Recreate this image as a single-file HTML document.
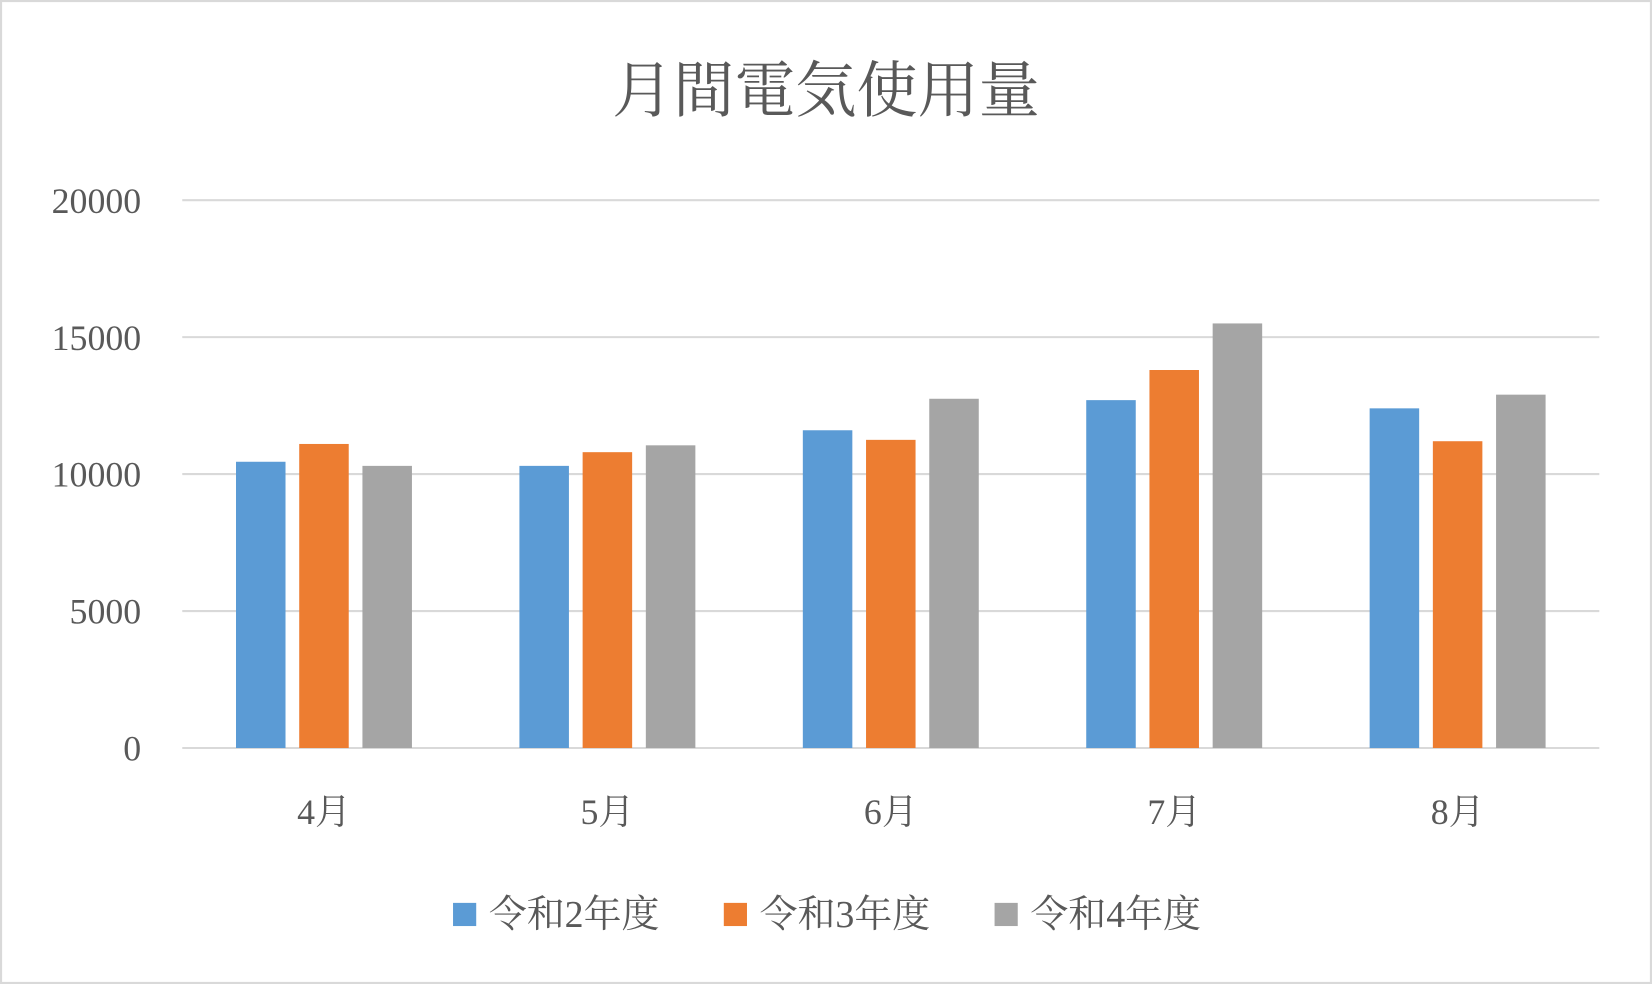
<!DOCTYPE html>
<html><head><meta charset="utf-8"><style>
html,body{margin:0;padding:0;background:#fff;}
svg{display:block;}
text{font-family:"Liberation Serif","Noto Serif CJK SC","Noto Sans CJK JP",serif;fill:#595959;}
</style></head><body>
<svg width="1652" height="984" viewBox="0 0 1568 934" preserveAspectRatio="none" xmlns="http://www.w3.org/2000/svg">
<rect x="1" y="1" width="1566" height="932" fill="#fff" stroke="#d9d9d9" stroke-width="2"/>
<text x="784" y="106" font-size="58" text-anchor="middle">月間電気使用量</text>
<g id="grid"></g><g id="bars"></g><g id="labels"></g>
<g font-size="36">
<rect x="430" y="857" width="22" height="22" fill="#5b9bd5"/>
<text x="464" y="880" font-size="36">令和2年度</text>
<rect x="687" y="857" width="22" height="22" fill="#ed7d31"/>
<text x="721" y="880" font-size="36">令和3年度</text>
<rect x="944" y="857" width="22" height="22" fill="#a5a5a5"/>
<text x="978" y="880" font-size="36">令和4年度</text>
</g>
</svg>
<script>
const categories=["4月","5月","6月","7月","8月"];
const seriesR2=[10450,10300,11600,12700,12400];
const seriesR3=[11100,10800,11250,13800,11200];
const seriesR4=[10300,11050,12750,15500,12900];
const ticks=[0,5000,10000,15000,20000];
const NS="http://www.w3.org/2000/svg";
const x0=173,x1=1518,yTop=190,yBot=710,maxV=20000;
const y=v=>yBot-(v/maxV)*(yBot-yTop);
const bw=(x1-x0)/categories.length;
const grid=document.getElementById('grid'),bars=document.getElementById('bars'),labels=document.getElementById('labels');
function mk(tag,attrs,parent){const e=document.createElementNS(NS,tag);for(const k in attrs)e.setAttribute(k,attrs[k]);parent.appendChild(e);return e;}
ticks.forEach(t=>{
 const l=mk('line',{x1:x0,x2:x1,y1:y(t),y2:y(t),stroke:'#d9d9d9','stroke-width':2},grid);
 
 
 const tx=mk('text',{x:134,y:y(t)+12,'font-size':34,'text-anchor':'end'},labels);
 tx.textContent=t;
 
 
});
const series=[[seriesR2,'#5b9bd5'],[seriesR3,'#ed7d31'],[seriesR4,'#a5a5a5']];
categories.forEach((c,i)=>{
 const cx=x0+bw*(i+0.5);
 series.forEach(([vals,col],s)=>{
  const bx=cx-83.5+s*60;
  const r=mk('rect',{x:bx,y:y(vals[i]),width:47,height:yBot-y(vals[i]),fill:col},bars);
  
  
 });
 const tx=mk('text',{x:cx,y:782,'font-size':34,'text-anchor':'middle'},labels);
 tx.textContent=c;
 
 
});
</script>
</body></html>
